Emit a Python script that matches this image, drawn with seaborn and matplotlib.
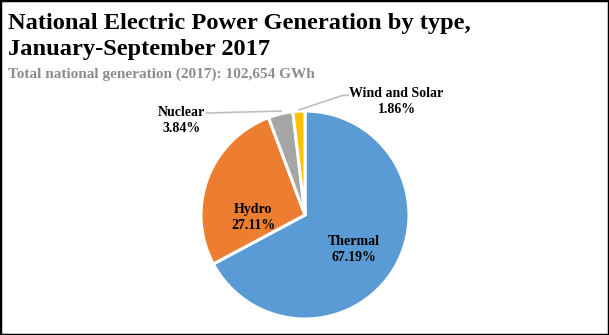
import matplotlib
matplotlib.use("Agg")
import matplotlib.pyplot as plt
import seaborn as sns
from matplotlib.patches import Rectangle

sns.set_theme(style="white")
plt.rcParams["font.family"] = ["Liberation Serif", "DejaVu Serif"]

# Generation share by source (percent)
sources = ["Thermal", "Hydro", "Nuclear", "Wind and Solar"]
shares = [67.19, 27.11, 3.84, 1.86]
colors = ["#5B9BD5", "#ED7D31", "#A5A5A5", "#FFC000"]

W, H = 609, 335
fig = plt.figure(figsize=(W / 100, H / 100), dpi=100)
fig.patch.set_facecolor("white")

# Pie axes: centre and radius in pixels
cx, cy, r = 305, 215, 104
ax = fig.add_axes([(cx - r) / W, (H - cy - r) / H, 2 * r / W, 2 * r / H])
ax.pie(shares, colors=colors, startangle=90, counterclock=False,
       wedgeprops=dict(edgecolor="white", linewidth=2.2))
ax.set_xlim(-1, 1)
ax.set_ylim(-1, 1)
ax.set_aspect("equal")
ax.set_axis_off()

lab = dict(fontsize=10, fontweight="bold", ha="center", va="center",
           color="black", linespacing=1.3)
fmt = "{}\n{:.2f}%"
ax.text(-0.50, -0.02, fmt.format(sources[1], shares[1]), **lab)
ax.text(0.47, -0.33, fmt.format(sources[0], shares[0]), **lab)
ax.text(-1.19, 0.91, fmt.format(sources[2], shares[2]), **lab)
ax.text(0.88, 1.09, fmt.format(sources[3], shares[3]), **lab)

# Leader lines for the small slices
line = dict(color="#BFBFBF", linewidth=1.2, clip_on=False)
ax.plot([-0.95, -0.23], [0.98, 1.00], **line)
ax.plot([-0.06, 0.36, 0.42], [1.01, 1.15, 1.15], **line)

# Titles
title = dict(fontsize=17.6, fontweight="bold", va="center", ha="left",
             color="black")
fig.text(8 / W, 1 - 24 / H, "National Electric Power Generation by type,", **title)
fig.text(8 / W, 1 - 50 / H, "January-September 2017", **title)
fig.text(8 / W, 1 - 74 / H, "Total national generation (2017): 102,654 GWh",
         fontsize=11, fontweight="bold", va="center", ha="left", color="#8C8C8C")

# Outer frame
fig.patches.append(Rectangle((0, 0), 1, 1, transform=fig.transFigure,
                             fill=False, edgecolor="black", linewidth=2.5))

fig.savefig("out.png", dpi=100)
